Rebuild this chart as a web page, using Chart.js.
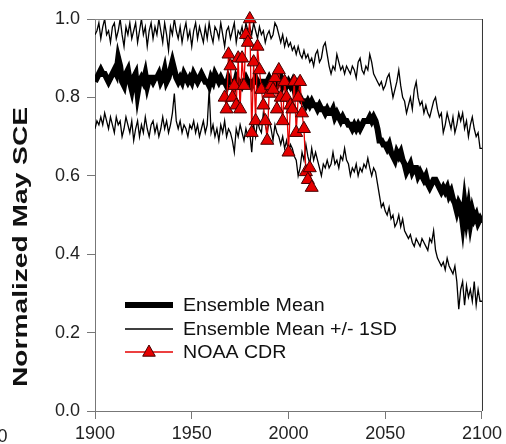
<!DOCTYPE html>
<html>
<head>
<meta charset="utf-8">
<script src="https://cdn.jsdelivr.net/npm/chart.js@4"></script>
<style>
  html, body { margin: 0; padding: 0; background: #fff; }
  #wrap { width: 506px; height: 444px; }
</style>
</head>
<body>
<div id="wrap"><canvas id="sceChart" width="506" height="444"></canvas></div>
<script>
// yearly values, 1900 .. 2100
const startYear = 1900;

const ensembleMean = [
  0.84, 0.85, 0.86, 0.87, 0.86, 0.86, 0.85, 0.84, 0.85, 0.86,
  0.87, 0.86, 0.90, 0.88, 0.84, 0.83, 0.86, 0.87, 0.84, 0.82,
  0.85, 0.86, 0.81, 0.84, 0.85, 0.84, 0.86, 0.83, 0.85, 0.85,
  0.84, 0.85, 0.85, 0.86, 0.84, 0.85, 0.87, 0.84, 0.85, 0.87,
  0.89, 0.87, 0.85, 0.84, 0.85, 0.84, 0.86, 0.85, 0.84, 0.85,
  0.84, 0.86, 0.85, 0.84, 0.85, 0.86, 0.85, 0.84, 0.84, 0.83,
  0.85, 0.84, 0.86, 0.85, 0.84, 0.85, 0.84, 0.84, 0.83, 0.85,
  0.84, 0.84, 0.83, 0.85, 0.84, 0.84, 0.83, 0.84, 0.85, 0.84,
  0.84, 0.83, 0.84, 0.85, 0.84, 0.83, 0.84, 0.84, 0.83, 0.84,
  0.85, 0.84, 0.83, 0.84, 0.83, 0.84, 0.85, 0.83, 0.84, 0.83,
  0.84, 0.83, 0.84, 0.82, 0.83, 0.81, 0.80, 0.79, 0.79, 0.78,
  0.79, 0.78, 0.79, 0.78, 0.78, 0.77, 0.78, 0.77, 0.77, 0.76,
  0.77, 0.76, 0.76, 0.77, 0.75, 0.76, 0.75, 0.74, 0.75, 0.74,
  0.74, 0.73, 0.73, 0.72, 0.73, 0.72, 0.73, 0.72, 0.73, 0.74,
  0.74, 0.74, 0.75, 0.74, 0.75, 0.74, 0.72, 0.69, 0.69, 0.68,
  0.68, 0.67, 0.68, 0.66, 0.65, 0.64, 0.66, 0.65, 0.66, 0.64,
  0.63, 0.61, 0.62, 0.63, 0.61, 0.62, 0.62, 0.60, 0.61, 0.60,
  0.59, 0.60, 0.58, 0.57, 0.58, 0.59, 0.59, 0.58, 0.57, 0.56,
  0.57, 0.56, 0.57, 0.55, 0.56, 0.54, 0.53, 0.51, 0.53, 0.52,
  0.48, 0.53, 0.49, 0.52, 0.48, 0.51, 0.49, 0.50, 0.48, 0.49,
  0.48
];

const ensembleUpper = [
  0.96, 0.97, 0.99, 0.95, 0.98, 1.00, 0.96, 0.97, 0.94, 0.98,
  0.99, 0.95, 0.97, 1.00, 0.96, 0.93, 0.98, 0.96, 0.99, 0.95,
  0.97, 0.99, 0.94, 0.97, 1.00, 0.96, 0.98, 0.93, 0.97, 0.99,
  0.95, 0.98, 0.96, 1.00, 0.97, 0.94, 0.99, 0.96, 0.92, 0.98,
  0.96, 1.00, 0.97, 0.95, 0.98, 0.94, 0.97, 0.99, 0.95, 0.97,
  0.93, 0.97, 0.99, 0.95, 0.98, 0.96, 0.94, 0.98, 0.95, 0.99,
  0.96, 0.94, 0.98, 0.97, 0.95, 0.99, 0.96, 0.93, 0.97, 0.98,
  0.95, 0.97, 0.99, 0.94, 0.97, 0.96, 0.98, 0.95, 0.99, 0.97,
  0.98, 0.96, 0.99, 0.97, 0.95, 0.98, 0.96, 0.97, 0.94, 0.96,
  0.97, 0.95, 0.96, 0.99, 0.98, 0.96, 0.94, 0.96, 0.93, 0.95,
  0.93, 0.94, 0.92, 0.93, 0.91, 0.93, 0.91, 0.90, 0.92, 0.90,
  0.91, 0.89, 0.90, 0.88, 0.91, 0.92, 0.89, 0.90, 0.93, 0.94,
  0.91, 0.88, 0.86, 0.88, 0.87, 0.91, 0.89, 0.87, 0.88, 0.86,
  0.88, 0.87, 0.86, 0.88, 0.87, 0.85, 0.89, 0.90, 0.87, 0.86,
  0.88, 0.87, 0.91, 0.89, 0.86, 0.85, 0.84, 0.83, 0.84, 0.82,
  0.83, 0.85, 0.86, 0.83, 0.80, 0.82, 0.84, 0.87, 0.83, 0.80,
  0.79, 0.76, 0.78, 0.80, 0.77, 0.82, 0.84, 0.80, 0.78, 0.79,
  0.76, 0.78, 0.76, 0.75, 0.77, 0.79, 0.80, 0.77, 0.75, 0.76,
  0.71, 0.73, 0.76, 0.74, 0.72, 0.75, 0.71, 0.73, 0.76, 0.74,
  0.76, 0.72, 0.74, 0.70, 0.73, 0.75, 0.72, 0.70, 0.71, 0.67,
  0.67
];

const ensembleLower = [
  0.72, 0.74, 0.73, 0.75, 0.73, 0.76, 0.74, 0.72, 0.75, 0.73,
  0.71, 0.75, 0.73, 0.74, 0.70, 0.72, 0.75, 0.73, 0.71, 0.74,
  0.69, 0.72, 0.74, 0.70, 0.73, 0.71, 0.75, 0.72, 0.70, 0.73,
  0.74, 0.71, 0.73, 0.70, 0.72, 0.75, 0.72, 0.74, 0.71, 0.73,
  0.76, 0.81, 0.74, 0.72, 0.74, 0.71, 0.73, 0.72, 0.70, 0.73,
  0.72, 0.74, 0.71, 0.73, 0.70, 0.72, 0.74, 0.71, 0.73, 0.82,
  0.71, 0.73, 0.70, 0.72, 0.69, 0.73, 0.71, 0.74, 0.70, 0.72,
  0.71, 0.69, 0.66, 0.72, 0.70, 0.73, 0.71, 0.69, 0.72, 0.70,
  0.71, 0.66, 0.73, 0.70, 0.74, 0.72, 0.71, 0.76, 0.73, 0.71,
  0.74, 0.72, 0.69, 0.73, 0.71, 0.70, 0.68, 0.70, 0.67, 0.69,
  0.66, 0.68, 0.67, 0.65, 0.64, 0.60, 0.62, 0.66, 0.64, 0.68,
  0.65, 0.63, 0.67, 0.64, 0.66, 0.64, 0.62, 0.60, 0.63, 0.62,
  0.64, 0.62, 0.63, 0.66, 0.63, 0.64, 0.62, 0.65, 0.64, 0.67,
  0.64, 0.63, 0.60, 0.62, 0.61, 0.63, 0.60, 0.62, 0.61, 0.63,
  0.62, 0.645, 0.62, 0.60, 0.62, 0.61, 0.58, 0.55, 0.52, 0.53,
  0.51, 0.50, 0.52, 0.49, 0.50, 0.47, 0.48, 0.50, 0.47, 0.49,
  0.46, 0.45, 0.44, 0.45, 0.43, 0.42, 0.44, 0.43, 0.42, 0.44,
  0.43, 0.42, 0.41, 0.44, 0.43, 0.46, 0.41, 0.39, 0.38, 0.37,
  0.38, 0.36, 0.39, 0.37, 0.36, 0.35, 0.37, 0.33, 0.26, 0.31,
  0.33, 0.27, 0.32, 0.29, 0.31, 0.28, 0.33, 0.27, 0.31, 0.28,
  0.28
];

const cdrYears = [
  1967, 1968, 1969, 1970, 1971, 1972, 1973, 1974, 1975, 1976,
  1977, 1978, 1979, 1980, 1981, 1982, 1983, 1984, 1985, 1986,
  1987, 1988, 1989, 1990, 1991, 1992, 1993, 1994, 1995, 1996,
  1997, 1998, 1999, 2000, 2001, 2002, 2003, 2004, 2005, 2006,
  2007, 2008, 2009, 2010, 2011, 2012
];
const cdrValues = [
  0.80, 0.77, 0.91, 0.88, 0.80, 0.83, 0.78, 0.90, 0.77, 0.90,
  0.83, 0.96, 0.94, 1.00, 0.71, 0.89, 0.74, 0.93, 0.87, 0.82,
  0.78, 0.74, 0.69, 0.81, 0.83, 0.82, 0.85, 0.77, 0.87, 0.80,
  0.74, 0.84, 0.80, 0.66, 0.78, 0.77, 0.84, 0.71, 0.80, 0.84,
  0.76, 0.72, 0.61, 0.59, 0.62, 0.57
];

const xTicks = [1900, 1950, 2000, 2050, 2100];
const yTicks = [0.0, 0.2, 0.4, 0.6, 0.8, 1.0];

const seriesLabels = ['Ensemble Mean', 'Ensemble Mean +/- 1SD', 'NOAA CDR'];
const yTitle = 'Normalized May SCE';

const toPoints = (vals) => vals.map((v, i) => ({ x: startYear + i, y: v }));

const FONT = '"Liberation Sans", Arial, sans-serif';
const RED = '#e60000';

// legend + axis title + frame, drawn by hand so they sit where the original has them
const decorPlugin = {
  id: 'decor',
  afterDraw(chart) {
    const ctx = chart.ctx;
    const area = chart.chartArea;

    // top and right frame
    ctx.save();
    ctx.lineWidth = 1;
    ctx.strokeStyle = '#888';
    ctx.beginPath();
    ctx.moveTo(area.left, area.top + 0.5);
    ctx.lineTo(area.right, area.top + 0.5);
    ctx.stroke();
    ctx.strokeStyle = '#333';
    ctx.beginPath();
    ctx.moveTo(area.right + 0.5, area.top);
    ctx.lineTo(area.right + 0.5, area.bottom);
    ctx.stroke();
    ctx.restore();

    // y axis title, stretched along its length like the original
    ctx.save();
    ctx.font = 'bold 20px ' + FONT;
    ctx.fillStyle = '#111';
    ctx.textAlign = 'center';
    ctx.textBaseline = 'alphabetic';
    const tw = ctx.measureText(yTitle).width;
    ctx.translate(27, 247);
    ctx.rotate(-Math.PI / 2);
    ctx.scale(280 / tw, 1);
    ctx.fillText(yTitle, 0, 0);
    ctx.restore();

    // cut-off tick label of the neighbouring panel
    ctx.save();
    ctx.font = '18px ' + FONT;
    ctx.fillStyle = '#222';
    ctx.textAlign = 'right';
    ctx.textBaseline = 'middle';
    ctx.fillText('2100', 7.5, 437);
    ctx.restore();

    // legend
    const rows = [305, 329, 352];
    const x0 = 125, x1 = 173, tx = 183;
    ctx.save();
    ctx.font = '18px ' + FONT;
    const sx = 214 / ctx.measureText(seriesLabels[1]).width;
    ctx.lineCap = 'butt';

    ctx.strokeStyle = '#000';
    ctx.lineWidth = 6;
    ctx.beginPath(); ctx.moveTo(x0, rows[0]); ctx.lineTo(x1, rows[0]); ctx.stroke();

    ctx.lineWidth = 1.3;
    ctx.beginPath(); ctx.moveTo(x0, rows[1]); ctx.lineTo(x1, rows[1]); ctx.stroke();

    ctx.strokeStyle = RED;
    ctx.lineWidth = 1.3;
    ctx.beginPath(); ctx.moveTo(x0, rows[2]); ctx.lineTo(x1, rows[2]); ctx.stroke();
    const cx = (x0 + x1) / 2, r = 7;
    ctx.beginPath();
    ctx.moveTo(cx, rows[2] - r);
    ctx.lineTo(cx + r * 0.9, rows[2] + r * 0.6);
    ctx.lineTo(cx - r * 0.9, rows[2] + r * 0.6);
    ctx.closePath();
    ctx.fillStyle = RED;
    ctx.fill();
    ctx.lineWidth = 1;
    ctx.strokeStyle = '#400';
    ctx.stroke();

    ctx.fillStyle = '#111';
    ctx.textAlign = 'left';
    ctx.textBaseline = 'middle';
    seriesLabels.forEach((lab, i) => {
      ctx.save();
      ctx.translate(tx, rows[i] + 1);
      ctx.scale(sx, 1);
      ctx.fillText(lab, 0, 0);
      ctx.restore();
    });
    ctx.restore();
  }
};

const ctx = document.getElementById('sceChart').getContext('2d');
new Chart(ctx, {
  type: 'line',
  data: {
    datasets: [
      {
        label: seriesLabels[2],
        data: cdrYears.map((yr, i) => ({ x: yr, y: cdrValues[i] })),
        borderColor: RED,
        borderWidth: 1.3,
        pointStyle: 'triangle',
        pointRadius: 7.5,
        pointBackgroundColor: RED,
        pointBorderColor: '#400',
        pointBorderWidth: 1,
        clip: false,
        order: 0
      },
      {
        label: seriesLabels[0],
        data: toPoints(ensembleMean),
        borderColor: '#000',
        borderWidth: 6,
        pointRadius: 0,
        order: 1
      },
      {
        label: seriesLabels[1],
        data: toPoints(ensembleUpper),
        borderColor: '#000',
        borderWidth: 1.3,
        pointRadius: 0,
        order: 2
      },
      {
        label: seriesLabels[1],
        data: toPoints(ensembleLower),
        borderColor: '#000',
        borderWidth: 1.3,
        pointRadius: 0,
        order: 2
      }
    ]
  },
  options: {
    responsive: false,
    animation: false,
    events: [],
    layout: { padding: { top: 19, right: 20, left: 0, bottom: 0 } },
    elements: { line: { tension: 0, fill: false } },
    plugins: {
      legend: { display: false },
      tooltip: { enabled: false }
    },
    scales: {
      x: {
        type: 'linear',
        min: 1900,
        max: 2100,
        afterFit: (scale) => { scale.height = 33; },
        afterBuildTicks: (scale) => { scale.ticks = xTicks.map(v => ({ value: v })); },
        grid: { drawOnChartArea: false, drawTicks: true, tickLength: 8, color: '#777' },
        border: { display: true, color: '#777', width: 1 },
        ticks: {
          padding: 4,
          maxRotation: 0,
          autoSkip: false,
          color: '#222',
          font: { family: FONT, size: 18 },
          callback: (v) => String(v)
        }
      },
      y: {
        type: 'linear',
        min: 0,
        max: 1.0,
        afterFit: (scale) => { scale.width = 95; },
        afterBuildTicks: (scale) => { scale.ticks = yTicks.map(v => ({ value: v })); },
        grid: { drawOnChartArea: false, drawTicks: true, tickLength: 8, color: '#777' },
        border: { display: true, color: '#777', width: 1 },
        ticks: {
          padding: 7,
          color: '#222',
          font: { family: FONT, size: 18 },
          callback: (v) => Number(v).toFixed(1)
        }
      }
    }
  },
  plugins: [decorPlugin]
});
</script>
</body>
</html>
